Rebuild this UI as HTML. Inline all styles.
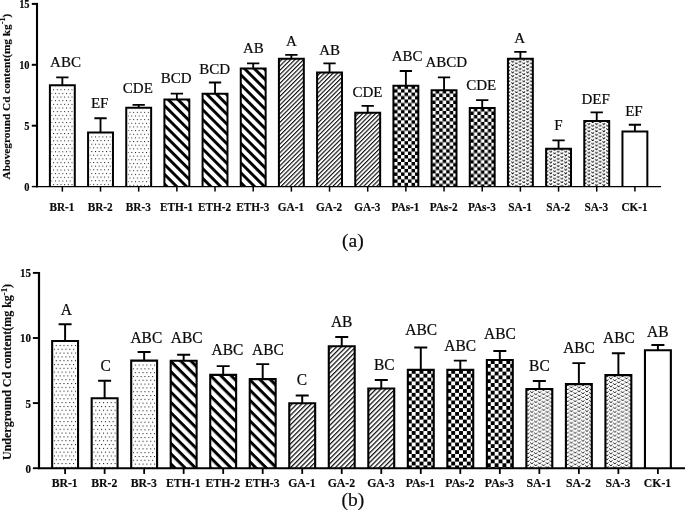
<!DOCTYPE html>
<html><head><meta charset="utf-8"><title>Cd content</title>
<style>
html,body{margin:0;padding:0;background:#fff;}
body{width:685px;height:510px;overflow:hidden;}
svg{display:block;font-family:"Liberation Serif","Times New Roman",serif;}
.bars path{stroke:#000;}
.eb{stroke:#000;fill:none;}
.tk{stroke:#000;fill:none;}
.ax{stroke:#000;fill:none;}
text{fill:#0a0a0a;}
.sig{text-anchor:middle;stroke:#0a0a0a;stroke-width:0.22px;}
.xl{font-weight:bold;text-anchor:middle;stroke:#0a0a0a;stroke-width:0.15px;}
.yl{font-weight:bold;text-anchor:end;stroke:#0a0a0a;stroke-width:0.15px;}
.ylab{font-weight:bold;text-anchor:middle;stroke:#0a0a0a;stroke-width:0.15px;}
.cl{font-size:19.5px;text-anchor:middle;stroke:#0a0a0a;stroke-width:0.2px;}
</style></head><body>
<svg width="685" height="510" viewBox="0 0 685 510">
<defs>
<pattern id="dA" x="4.25" y="5.05" width="3.67" height="7.3" patternUnits="userSpaceOnUse"><rect width="3.67" height="7.3" fill="#fff"/><rect x="0" y="0" width="1" height="1" fill="#1a1a1a"/><rect x="1.83" y="3.65" width="1" height="1" fill="#1a1a1a"/></pattern>
<pattern id="eA" x="0" y="2.86" width="10" height="6.93" patternUnits="userSpaceOnUse" patternTransform="rotate(45)"><rect width="10" height="6.93" fill="#fff"/><rect width="10" height="2.9" fill="#000"/></pattern>
<pattern id="gA" x="0" y="0.43" width="10" height="3.07" patternUnits="userSpaceOnUse" patternTransform="rotate(-45)"><rect width="10" height="3.07" fill="#fff"/><rect width="10" height="1.15" fill="#111"/></pattern>
<pattern id="cA" x="1.6" y="0.95" width="7" height="6.94" patternUnits="userSpaceOnUse"><rect width="7" height="6.94" fill="#fff"/><rect x="3.5" y="0" width="3.5" height="3.47" fill="#000"/><rect x="0" y="3.47" width="3.5" height="3.47" fill="#000"/></pattern>
<pattern id="sA" x="4.1" y="6.4" width="7.45" height="3.6" patternUnits="userSpaceOnUse"><rect width="7.45" height="3.6" fill="#fff"/><path d="M0.3 0.3L1.6 1.6L2.9 0.3M4.03 2.1L5.33 3.4L6.62 2.1" stroke="#000" stroke-width="0.92" fill="none"/></pattern>
<pattern id="dB" x="4.65" y="4.94" width="3.86" height="7.62" patternUnits="userSpaceOnUse"><rect width="3.86" height="7.62" fill="#fff"/><rect x="0" y="0" width="1.05" height="1.05" fill="#1a1a1a"/><rect x="1.93" y="3.81" width="1.05" height="1.05" fill="#1a1a1a"/></pattern>
<pattern id="eB" x="0" y="-1.15" width="10" height="7.25" patternUnits="userSpaceOnUse" patternTransform="rotate(45)"><rect width="10" height="7.25" fill="#fff"/><rect width="10" height="3" fill="#000"/></pattern>
<pattern id="gB" x="0" y="0.03" width="10" height="3.38" patternUnits="userSpaceOnUse" patternTransform="rotate(-45)"><rect width="10" height="3.38" fill="#fff"/><rect width="10" height="1.25" fill="#111"/></pattern>
<pattern id="cB" x="1.04" y="1.15" width="7.8" height="7.64" patternUnits="userSpaceOnUse"><rect width="7.8" height="7.64" fill="#fff"/><rect x="3.9" y="0" width="3.9" height="3.82" fill="#000"/><rect x="0" y="3.82" width="3.9" height="3.82" fill="#000"/></pattern>
<pattern id="sB" x="4.65" y="2.99" width="7.77" height="3.95" patternUnits="userSpaceOnUse"><rect width="7.77" height="3.95" fill="#fff"/><path d="M0.3 0.3L1.8 2.05L3.3 0.3M4.18 2.28L5.68 4.03L7.18 2.28" stroke="#000" stroke-width="0.93" fill="none"/></pattern>
</defs>
<rect width="685" height="510" fill="#fff"/>
<g class="bars" stroke-width="2">
<path d="M62.35 85.2V77.3M56.2 77.3H68.5" class="eb" stroke-width="1.85"/>
<g transform="translate(48.9 84.2)"><rect x="2.5" y="2.5" width="21.9" height="99.9" fill="url(#dA)" stroke="none"/><path d="M1 102.4V1H25.9V102.4" fill="none"/></g>
<path d="M100.52 132.4V118.2M94.37 118.2H106.67" class="eb" stroke-width="1.85"/>
<g transform="translate(87.07 131.4)"><rect x="2.5" y="2.5" width="21.9" height="52.7" fill="url(#dA)" stroke="none"/><path d="M1 55.2V1H25.9V55.2" fill="none"/></g>
<path d="M138.69 107.8V104.9M132.54 104.9H144.84" class="eb" stroke-width="1.85"/>
<g transform="translate(125.24 106.8)"><rect x="2.5" y="2.5" width="21.9" height="77.3" fill="url(#dA)" stroke="none"/><path d="M1 79.8V1H25.9V79.8" fill="none"/></g>
<path d="M176.86 99.5V93.6M170.71 93.6H183.01" class="eb" stroke-width="1.85"/>
<g transform="translate(163.41 98.5)"><rect x="1" y="1" width="24.9" height="87.1" fill="url(#eA)" stroke="none"/><path d="M1 88.1V1H25.9V88.1" fill="none"/></g>
<path d="M215.03 93.7V82.5M208.88 82.5H221.18" class="eb" stroke-width="1.85"/>
<g transform="translate(201.58 92.7)"><rect x="1" y="1" width="24.9" height="92.9" fill="url(#eA)" stroke="none"/><path d="M1 93.9V1H25.9V93.9" fill="none"/></g>
<path d="M253.2 68.6V63.4M247.05 63.4H259.35" class="eb" stroke-width="1.85"/>
<g transform="translate(239.75 67.6)"><rect x="1" y="1" width="24.9" height="118" fill="url(#eA)" stroke="none"/><path d="M1 119V1H25.9V119" fill="none"/></g>
<path d="M291.37 58.8V54.9M285.22 54.9H297.52" class="eb" stroke-width="1.85"/>
<g transform="translate(277.92 57.8)"><rect x="1" y="1" width="24.9" height="127.8" fill="url(#gA)" stroke="none"/><path d="M1 128.8V1H25.9V128.8" fill="none"/></g>
<path d="M329.54 72.4V63.4M323.39 63.4H335.69" class="eb" stroke-width="1.85"/>
<g transform="translate(316.09 71.4)"><rect x="1" y="1" width="24.9" height="114.2" fill="url(#gA)" stroke="none"/><path d="M1 115.2V1H25.9V115.2" fill="none"/></g>
<path d="M367.71 112.8V105.9M361.56 105.9H373.86" class="eb" stroke-width="1.85"/>
<g transform="translate(354.26 111.8)"><rect x="1" y="1" width="24.9" height="73.8" fill="url(#gA)" stroke="none"/><path d="M1 74.8V1H25.9V74.8" fill="none"/></g>
<path d="M405.88 85.7V71M399.73 71H412.03" class="eb" stroke-width="1.85"/>
<g transform="translate(392.43 84.7)"><rect x="1" y="1" width="24.9" height="100.9" fill="url(#cA)" stroke="none"/><path d="M1 101.9V1H25.9V101.9" fill="none"/></g>
<path d="M444.05 90.2V77.3M437.9 77.3H450.2" class="eb" stroke-width="1.85"/>
<g transform="translate(430.6 89.2)"><rect x="1" y="1" width="24.9" height="96.4" fill="url(#cA)" stroke="none"/><path d="M1 97.4V1H25.9V97.4" fill="none"/></g>
<path d="M482.22 108.1V100.1M476.07 100.1H488.37" class="eb" stroke-width="1.85"/>
<g transform="translate(468.77 107.1)"><rect x="1" y="1" width="24.9" height="78.5" fill="url(#cA)" stroke="none"/><path d="M1 79.5V1H25.9V79.5" fill="none"/></g>
<path d="M520.39 58.8V51.9M514.24 51.9H526.54" class="eb" stroke-width="1.85"/>
<g transform="translate(506.94 57.8)"><rect x="1" y="1" width="24.9" height="127.8" fill="url(#sA)" stroke="none"/><path d="M1 128.8V1H25.9V128.8" fill="none"/></g>
<path d="M558.56 148.8V140.3M552.41 140.3H564.71" class="eb" stroke-width="1.85"/>
<g transform="translate(545.11 147.8)"><rect x="1" y="1" width="24.9" height="37.8" fill="url(#sA)" stroke="none"/><path d="M1 38.8V1H25.9V38.8" fill="none"/></g>
<path d="M596.73 121.1V112.4M590.58 112.4H602.88" class="eb" stroke-width="1.85"/>
<g transform="translate(583.28 120.1)"><rect x="1" y="1" width="24.9" height="65.5" fill="url(#sA)" stroke="none"/><path d="M1 66.5V1H25.9V66.5" fill="none"/></g>
<path d="M634.9 131.4V124.7M628.75 124.7H641.05" class="eb" stroke-width="1.85"/>
<g transform="translate(621.45 130.4)"><path d="M1 56.2V1H25.9V56.2" fill="none"/></g>
</g>
<text transform="translate(65.5 66.5) scale(1 1.04)" class="sig" font-size="15">ABC</text>
<path d="M62.35 186.6V191.62" class="tk" stroke-width="1.5"/>
<text transform="translate(61.95 211) scale(1 1.05)" class="xl" font-size="11.25">BR-1</text>
<text transform="translate(99.7 107.9) scale(1 1.04)" class="sig" font-size="15">EF</text>
<path d="M100.52 186.6V191.62" class="tk" stroke-width="1.5"/>
<text transform="translate(100.12 211) scale(1 1.05)" class="xl" font-size="11.25">BR-2</text>
<text transform="translate(137.8 92.8) scale(1 1.04)" class="sig" font-size="15">CDE</text>
<path d="M138.69 186.6V191.62" class="tk" stroke-width="1.5"/>
<text transform="translate(138.29 211) scale(1 1.05)" class="xl" font-size="11.25">BR-3</text>
<text transform="translate(176.1 82.8) scale(1 1.04)" class="sig" font-size="15">BCD</text>
<path d="M176.86 186.6V191.62" class="tk" stroke-width="1.5"/>
<text transform="translate(176.46 211) scale(1 1.05)" class="xl" font-size="11.25">ETH-1</text>
<text transform="translate(214.6 73.5) scale(1 1.04)" class="sig" font-size="15">BCD</text>
<path d="M215.03 186.6V191.62" class="tk" stroke-width="1.5"/>
<text transform="translate(214.63 211) scale(1 1.05)" class="xl" font-size="11.25">ETH-2</text>
<text transform="translate(253.4 53.1) scale(1 1.04)" class="sig" font-size="15">AB</text>
<path d="M253.2 186.6V191.62" class="tk" stroke-width="1.5"/>
<text transform="translate(252.8 211) scale(1 1.05)" class="xl" font-size="11.25">ETH-3</text>
<text transform="translate(291.3 45.9) scale(1 1.04)" class="sig" font-size="15">A</text>
<path d="M291.37 186.6V191.62" class="tk" stroke-width="1.5"/>
<text transform="translate(290.97 211) scale(1 1.05)" class="xl" font-size="11.25">GA-1</text>
<text transform="translate(329.6 54.6) scale(1 1.04)" class="sig" font-size="15">AB</text>
<path d="M329.54 186.6V191.62" class="tk" stroke-width="1.5"/>
<text transform="translate(329.14 211) scale(1 1.05)" class="xl" font-size="11.25">GA-2</text>
<text transform="translate(367.4 96.9) scale(1 1.04)" class="sig" font-size="15">CDE</text>
<path d="M367.71 186.6V191.62" class="tk" stroke-width="1.5"/>
<text transform="translate(367.31 211) scale(1 1.05)" class="xl" font-size="11.25">GA-3</text>
<text transform="translate(407.2 61.4) scale(1 1.04)" class="sig" font-size="15">ABC</text>
<path d="M405.88 186.6V191.62" class="tk" stroke-width="1.5"/>
<text transform="translate(405.48 211) scale(1 1.05)" class="xl" font-size="11.25">PAs-1</text>
<text transform="translate(446.3 67.2) scale(1 1.04)" class="sig" font-size="15">ABCD</text>
<path d="M444.05 186.6V191.62" class="tk" stroke-width="1.5"/>
<text transform="translate(443.65 211) scale(1 1.05)" class="xl" font-size="11.25">PAs-2</text>
<text transform="translate(481.2 89.8) scale(1 1.04)" class="sig" font-size="15">CDE</text>
<path d="M482.22 186.6V191.62" class="tk" stroke-width="1.5"/>
<text transform="translate(481.82 211) scale(1 1.05)" class="xl" font-size="11.25">PAs-3</text>
<text transform="translate(519.6 43.3) scale(1 1.04)" class="sig" font-size="15">A</text>
<path d="M520.39 186.6V191.62" class="tk" stroke-width="1.5"/>
<text transform="translate(519.99 211) scale(1 1.05)" class="xl" font-size="11.25">SA-1</text>
<text transform="translate(558.3 129.5) scale(1 1.04)" class="sig" font-size="15">F</text>
<path d="M558.56 186.6V191.62" class="tk" stroke-width="1.5"/>
<text transform="translate(558.16 211) scale(1 1.05)" class="xl" font-size="11.25">SA-2</text>
<text transform="translate(595.7 104.1) scale(1 1.04)" class="sig" font-size="15">DEF</text>
<path d="M596.73 186.6V191.62" class="tk" stroke-width="1.5"/>
<text transform="translate(596.33 211) scale(1 1.05)" class="xl" font-size="11.25">SA-3</text>
<text transform="translate(633.9 116) scale(1 1.04)" class="sig" font-size="15">EF</text>
<path d="M634.9 186.6V191.62" class="tk" stroke-width="1.5"/>
<text transform="translate(634.5 211) scale(1 1.05)" class="xl" font-size="11.25">CK-1</text>
<path d="M37 2.9V187.32" class="ax" stroke-width="2.1"/>
<path d="M36 186.6H661" class="ax" stroke-width="1.45"/>
<path d="M31.8 186.6H37" class="tk" stroke-width="1.45"/>
<text transform="translate(29.6 190.8) scale(0.96 1.1)" class="yl" font-size="10.9">0</text>
<path d="M31.8 125.7H37" class="tk" stroke-width="2"/>
<text transform="translate(29.6 129.9) scale(0.96 1.1)" class="yl" font-size="10.9">5</text>
<path d="M31.8 64.8H37" class="tk" stroke-width="2"/>
<text transform="translate(29.6 69) scale(0.96 1.1)" class="yl" font-size="10.9">10</text>
<path d="M31.8 3.9H37" class="tk" stroke-width="2"/>
<text transform="translate(29.6 8.1) scale(0.96 1.1)" class="yl" font-size="10.9">15</text>
<text transform="translate(9.7 96.6) rotate(-90)" class="ylab" font-size="11.3">Aboveground Cd content(mg kg<tspan dy="-4.4" font-size="8.14">-1</tspan><tspan dy="4.4">)</tspan></text>
<text x="352.9" y="246.6" class="cl">(a)</text>
<g class="bars" stroke-width="2.1">
<path d="M65.1 341V324.3M58.6 324.3H71.6" class="eb" stroke-width="1.95"/>
<g transform="translate(51.1 340)"><rect x="2.6" y="2.6" width="22.8" height="125.6" fill="url(#dB)" stroke="none"/><path d="M1.05 128.2V1.05H26.95V128.2" fill="none"/></g>
<path d="M104.62 398.2V380.8M98.12 380.8H111.12" class="eb" stroke-width="1.95"/>
<g transform="translate(90.62 397.2)"><rect x="2.6" y="2.6" width="22.8" height="68.4" fill="url(#dB)" stroke="none"/><path d="M1.05 71V1.05H26.95V71" fill="none"/></g>
<path d="M144.14 360.6V352M137.64 352H150.64" class="eb" stroke-width="1.95"/>
<g transform="translate(130.14 359.6)"><rect x="2.6" y="2.6" width="22.8" height="106" fill="url(#dB)" stroke="none"/><path d="M1.05 108.6V1.05H26.95V108.6" fill="none"/></g>
<path d="M183.66 360.7V354.8M177.16 354.8H190.16" class="eb" stroke-width="1.95"/>
<g transform="translate(169.66 359.7)"><rect x="1.05" y="1.05" width="25.9" height="107.45" fill="url(#eB)" stroke="none"/><path d="M1.05 108.5V1.05H26.95V108.5" fill="none"/></g>
<path d="M223.18 374.8V366.1M216.68 366.1H229.68" class="eb" stroke-width="1.95"/>
<g transform="translate(209.18 373.8)"><rect x="1.05" y="1.05" width="25.9" height="93.35" fill="url(#eB)" stroke="none"/><path d="M1.05 94.4V1.05H26.95V94.4" fill="none"/></g>
<path d="M262.7 379.1V364.1M256.2 364.1H269.2" class="eb" stroke-width="1.95"/>
<g transform="translate(248.7 378.1)"><rect x="1.05" y="1.05" width="25.9" height="89.05" fill="url(#eB)" stroke="none"/><path d="M1.05 90.1V1.05H26.95V90.1" fill="none"/></g>
<path d="M302.22 403.2V395.5M295.72 395.5H308.72" class="eb" stroke-width="1.95"/>
<g transform="translate(288.22 402.2)"><rect x="1.05" y="1.05" width="25.9" height="64.95" fill="url(#gB)" stroke="none"/><path d="M1.05 66V1.05H26.95V66" fill="none"/></g>
<path d="M341.74 346.2V336.9M335.24 336.9H348.24" class="eb" stroke-width="1.95"/>
<g transform="translate(327.74 345.2)"><rect x="1.05" y="1.05" width="25.9" height="121.95" fill="url(#gB)" stroke="none"/><path d="M1.05 123V1.05H26.95V123" fill="none"/></g>
<path d="M381.26 388.4V379.9M374.76 379.9H387.76" class="eb" stroke-width="1.95"/>
<g transform="translate(367.26 387.4)"><rect x="1.05" y="1.05" width="25.9" height="79.75" fill="url(#gB)" stroke="none"/><path d="M1.05 80.8V1.05H26.95V80.8" fill="none"/></g>
<path d="M420.78 369.8V347.5M414.28 347.5H427.28" class="eb" stroke-width="1.95"/>
<g transform="translate(406.78 368.8)"><rect x="1.05" y="1.05" width="25.9" height="98.35" fill="url(#cB)" stroke="none"/><path d="M1.05 99.4V1.05H26.95V99.4" fill="none"/></g>
<path d="M460.3 369.8V360.6M453.8 360.6H466.8" class="eb" stroke-width="1.95"/>
<g transform="translate(446.3 368.8)"><rect x="1.05" y="1.05" width="25.9" height="98.35" fill="url(#cB)" stroke="none"/><path d="M1.05 99.4V1.05H26.95V99.4" fill="none"/></g>
<path d="M499.82 360V351M493.32 351H506.32" class="eb" stroke-width="1.95"/>
<g transform="translate(485.82 359)"><rect x="1.05" y="1.05" width="25.9" height="108.15" fill="url(#cB)" stroke="none"/><path d="M1.05 109.2V1.05H26.95V109.2" fill="none"/></g>
<path d="M539.34 388.9V380.9M532.84 380.9H545.84" class="eb" stroke-width="1.95"/>
<g transform="translate(525.34 387.9)"><rect x="1.05" y="1.05" width="25.9" height="79.25" fill="url(#sB)" stroke="none"/><path d="M1.05 80.3V1.05H26.95V80.3" fill="none"/></g>
<path d="M578.86 384.1V363.1M572.36 363.1H585.36" class="eb" stroke-width="1.95"/>
<g transform="translate(564.86 383.1)"><rect x="1.05" y="1.05" width="25.9" height="84.05" fill="url(#sB)" stroke="none"/><path d="M1.05 85.1V1.05H26.95V85.1" fill="none"/></g>
<path d="M618.38 375.1V353.3M611.88 353.3H624.88" class="eb" stroke-width="1.95"/>
<g transform="translate(604.38 374.1)"><rect x="1.05" y="1.05" width="25.9" height="93.05" fill="url(#sB)" stroke="none"/><path d="M1.05 94.1V1.05H26.95V94.1" fill="none"/></g>
<path d="M657.9 350.2V345M651.4 345H664.4" class="eb" stroke-width="1.95"/>
<g transform="translate(643.9 349.2)"><path d="M1.05 119V1.05H26.95V119" fill="none"/></g>
</g>
<text transform="translate(66.3 314.5) scale(1 1.04)" class="sig" font-size="15.45">A</text>
<path d="M65.1 468.2V473.93" class="tk" stroke-width="1.8"/>
<text transform="translate(64.7 486.9) scale(1 1.05)" class="xl" font-size="11.75">BR-1</text>
<text transform="translate(105.7 370.6) scale(1 1.04)" class="sig" font-size="15.45">C</text>
<path d="M104.62 468.2V473.93" class="tk" stroke-width="1.8"/>
<text transform="translate(104.22 486.9) scale(1 1.05)" class="xl" font-size="11.75">BR-2</text>
<text transform="translate(146.3 343.3) scale(1 1.04)" class="sig" font-size="15.45">ABC</text>
<path d="M144.14 468.2V473.93" class="tk" stroke-width="1.8"/>
<text transform="translate(143.74 486.9) scale(1 1.05)" class="xl" font-size="11.75">BR-3</text>
<text transform="translate(186.6 343.2) scale(1 1.04)" class="sig" font-size="15.45">ABC</text>
<path d="M183.66 468.2V473.93" class="tk" stroke-width="1.8"/>
<text transform="translate(183.26 486.9) scale(1 1.05)" class="xl" font-size="11.75">ETH-1</text>
<text transform="translate(227.4 354.8) scale(1 1.04)" class="sig" font-size="15.45">ABC</text>
<path d="M223.18 468.2V473.93" class="tk" stroke-width="1.8"/>
<text transform="translate(222.78 486.9) scale(1 1.05)" class="xl" font-size="11.75">ETH-2</text>
<text transform="translate(267.9 354.8) scale(1 1.04)" class="sig" font-size="15.45">ABC</text>
<path d="M262.7 468.2V473.93" class="tk" stroke-width="1.8"/>
<text transform="translate(262.3 486.9) scale(1 1.05)" class="xl" font-size="11.75">ETH-3</text>
<text transform="translate(301.8 384.9) scale(1 1.04)" class="sig" font-size="15.45">C</text>
<path d="M302.22 468.2V473.93" class="tk" stroke-width="1.8"/>
<text transform="translate(301.82 486.9) scale(1 1.05)" class="xl" font-size="11.75">GA-1</text>
<text transform="translate(341.6 327.1) scale(1 1.04)" class="sig" font-size="15.45">AB</text>
<path d="M341.74 468.2V473.93" class="tk" stroke-width="1.8"/>
<text transform="translate(341.34 486.9) scale(1 1.05)" class="xl" font-size="11.75">GA-2</text>
<text transform="translate(384.2 370.4) scale(1 1.04)" class="sig" font-size="15.45">BC</text>
<path d="M381.26 468.2V473.93" class="tk" stroke-width="1.8"/>
<text transform="translate(380.86 486.9) scale(1 1.05)" class="xl" font-size="11.75">GA-3</text>
<text transform="translate(421.2 335.2) scale(1 1.04)" class="sig" font-size="15.45">ABC</text>
<path d="M420.78 468.2V473.93" class="tk" stroke-width="1.8"/>
<text transform="translate(420.38 486.9) scale(1 1.05)" class="xl" font-size="11.75">PAs-1</text>
<text transform="translate(460.2 350.8) scale(1 1.04)" class="sig" font-size="15.45">ABC</text>
<path d="M460.3 468.2V473.93" class="tk" stroke-width="1.8"/>
<text transform="translate(459.9 486.9) scale(1 1.05)" class="xl" font-size="11.75">PAs-2</text>
<text transform="translate(499.9 338.9) scale(1 1.04)" class="sig" font-size="15.45">ABC</text>
<path d="M499.82 468.2V473.93" class="tk" stroke-width="1.8"/>
<text transform="translate(499.42 486.9) scale(1 1.05)" class="xl" font-size="11.75">PAs-3</text>
<text transform="translate(539.4 371.4) scale(1 1.04)" class="sig" font-size="15.45">BC</text>
<path d="M539.34 468.2V473.93" class="tk" stroke-width="1.8"/>
<text transform="translate(538.94 486.9) scale(1 1.05)" class="xl" font-size="11.75">SA-1</text>
<text transform="translate(579 352.8) scale(1 1.04)" class="sig" font-size="15.45">ABC</text>
<path d="M578.86 468.2V473.93" class="tk" stroke-width="1.8"/>
<text transform="translate(578.46 486.9) scale(1 1.05)" class="xl" font-size="11.75">SA-2</text>
<text transform="translate(618.9 343.2) scale(1 1.04)" class="sig" font-size="15.45">ABC</text>
<path d="M618.38 468.2V473.93" class="tk" stroke-width="1.8"/>
<text transform="translate(617.98 486.9) scale(1 1.05)" class="xl" font-size="11.75">SA-3</text>
<text transform="translate(657.7 336.9) scale(1 1.04)" class="sig" font-size="15.45">AB</text>
<path d="M657.9 468.2V473.93" class="tk" stroke-width="1.8"/>
<text transform="translate(657.5 486.9) scale(1 1.05)" class="xl" font-size="11.75">CK-1</text>
<path d="M39 272V469.12" class="ax" stroke-width="2.2"/>
<path d="M38 468.2H686" class="ax" stroke-width="1.85"/>
<path d="M32.9 468.2H39" class="tk" stroke-width="1.85"/>
<text transform="translate(31 472.63) scale(0.96 1.1)" class="yl" font-size="11.5">0</text>
<path d="M32.9 403.1H39" class="tk" stroke-width="1.9"/>
<text transform="translate(31 407.53) scale(0.96 1.1)" class="yl" font-size="11.5">5</text>
<path d="M32.9 338H39" class="tk" stroke-width="1.9"/>
<text transform="translate(31 342.43) scale(0.96 1.1)" class="yl" font-size="11.5">10</text>
<path d="M32.9 272.9H39" class="tk" stroke-width="1.9"/>
<text transform="translate(31 277.33) scale(0.96 1.1)" class="yl" font-size="11.5">15</text>
<text transform="translate(11 372) rotate(-90)" class="ylab" font-size="12">Underground Cd content(mg kg<tspan dy="-4.4" font-size="8.64">-1</tspan><tspan dy="4.4">)</tspan></text>
<text x="352.9" y="505.7" class="cl">(b)</text>
</svg>
</body></html>
